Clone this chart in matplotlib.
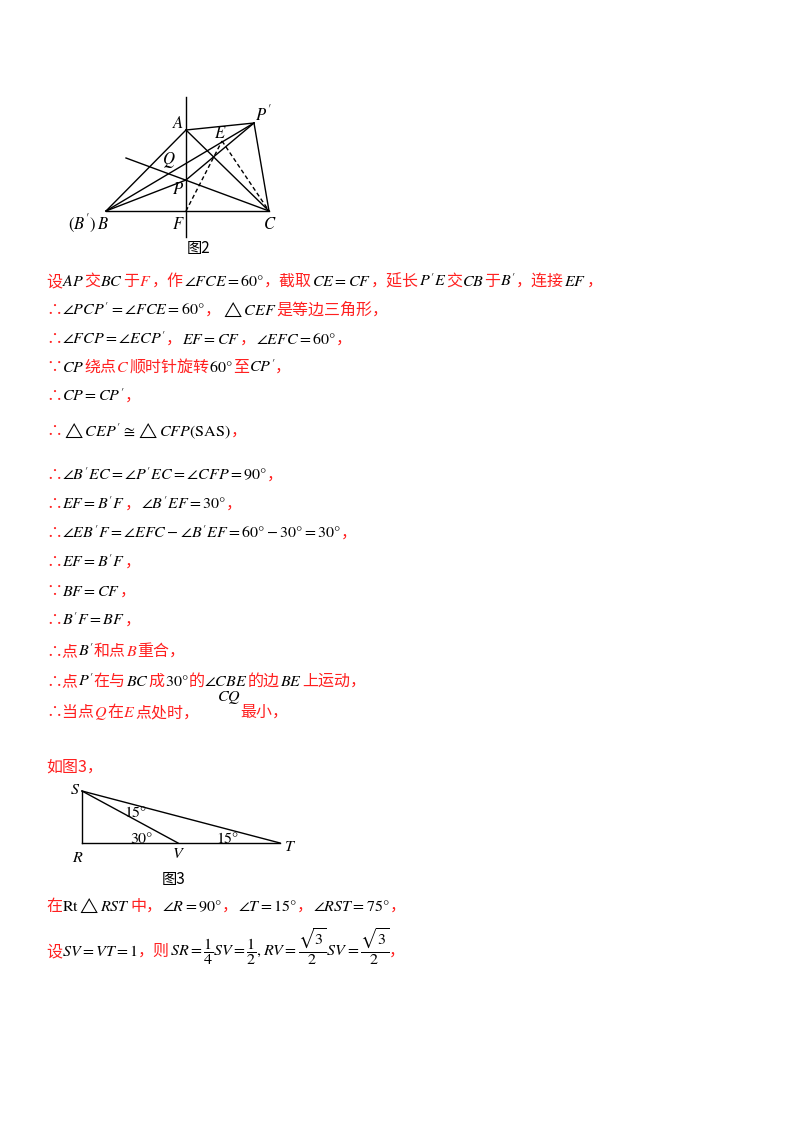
import matplotlib
matplotlib.use("Agg")
import matplotlib.pyplot as plt

plt.rcParams["mathtext.fontset"] = "stix"
plt.rcParams["font.family"] = ["Noto Sans CJK SC", "DejaVu Sans"]

RED = "#ff2020"
BLK = "black"

# ---------------- figure 2 points (page pixels)
fig2_pts = {
    "A": (186, 130), "P'": (254, 123), "B": (106, 211), "C": (269, 211),
    "F": (186, 211), "P": (186, 180), "E": (222, 141), "L": (126, 158),
}
fig2_solid = [("A", "B"), ("A", "C"), ("A", "P'"), ("P'", "C"), ("B", "C"),
              ("B", "P'"), ("B", "P"), ("P", "P'"), ("L", "C")]
fig2_dashed = [("F", "E"), ("E", "C")]
fig2_labels = [("A", 172, 128), ("P'", 255, 120), ("E", 214, 138), ("Q", 162, 164),
               ("P", 172, 194), ("(B')\\,B", 68, 229), ("F", 172, 229), ("C", 263, 229)]

# ---------------- figure 3 points
fig3_pts = {"S": (82, 791), "R": (82, 843), "V": (178, 843), "T": (280, 843)}
fig3_solid = [("S", "R"), ("R", "T"), ("S", "T"), ("S", "V")]
fig3_labels = [("S", 70, 794), ("R", 72, 862), ("V", 172, 858), ("T", 284, 851),
               ("15°", 124, 817), ("30°", 130, 843), ("15°", 216, 843)]

# ---------------- text lines: (y, [(text, colour), ...]); colour None = jump to x
text_lines = [
    (286, [("设", RED), ("$AP$", BLK), ("交", RED), ("$BC$", BLK), ("于", RED), ("$F$", RED),
           ("，作", RED), ("$\\angle FCE=60°$", BLK), ("，截取", RED), ("$CE=CF$", BLK),
           ("，延长", RED), ("$P'E$", BLK), ("交", RED), ("$CB$", BLK), ("于", RED),
           ("$B'$", BLK), ("，连接", RED), ("$EF$", BLK), ("，", RED)]),
    (315, [("∴", RED), ("$\\angle PCP'=\\angle FCE=60°$", BLK), ("，", RED),
           ("$\\triangle CEF$", BLK), ("是等边三角形，", RED)]),
    (344, [("∴", RED), ("$\\angle FCP=\\angle ECP'$", BLK), ("，", RED), ("$EF=CF$", BLK),
           ("，", RED), ("$\\angle EFC=60°$", BLK), ("，", RED)]),
    (372, [("∵", RED), ("$CP$", BLK), ("绕点", RED), ("$C$", RED), ("顺时针旋转", RED),
           ("$60°$", BLK), ("至", RED), ("$CP'$", BLK), ("，", RED)]),
    (401, [("∴", RED), ("$CP=CP'$", BLK), ("，", RED)]),
    (436, [("∴", RED), ("$\\triangle CEP'\\cong\\triangle CFP(\\mathrm{SAS})$", BLK), ("，", RED)]),
    (480, [("∴", RED), ("$\\angle B'EC=\\angle P'EC=\\angle CFP=90°$", BLK), ("，", RED)]),
    (509, [("∴", RED), ("$EF=B'F$", BLK), ("，", RED), ("$\\angle B'EF=30°$", BLK), ("，", RED)]),
    (538, [("∴", RED), ("$\\angle EB'F=\\angle EFC-\\angle B'EF=60°-30°=30°$", BLK), ("，", RED)]),
    (567, [("∴", RED), ("$EF=B'F$", BLK), ("，", RED)]),
    (596, [("∵", RED), ("$BF=CF$", BLK), ("，", RED)]),
    (625, [("∴", RED), ("$B'F=BF$", BLK), ("，", RED)]),
    (656, [("∴点", RED), ("$B'$", BLK), ("和点", RED), ("$B$", RED), ("重合，", RED)]),
    (686, [("∴点", RED), ("$P'$", BLK), ("在与", RED), ("$BC$", BLK), ("成", RED), ("$30°$", BLK),
           ("的", RED), ("$\\angle CBE$", BLK), ("的边", RED), ("$BE$", BLK), ("上运动，", RED)]),
    (717, [("∴当点", RED), ("$Q$", RED), ("在", RED), ("$E$", RED), ("点处时，", RED),
           (240, None), ("最小，", RED)]),
    (772, [("如图3，", RED)]),
    (911, [("在", RED), ("$\\mathrm{Rt}\\triangle RST$", BLK), ("中，", RED),
           ("$\\angle R=90°$", BLK), ("，", RED), ("$\\angle T=15°$", BLK), ("，", RED),
           ("$\\angle RST=75°$", BLK), ("，", RED)]),
    (956, [("设", RED), ("$SV=VT=1$", BLK), ("，则", RED),
           ("$SR=\\dfrac{1}{4}SV=\\dfrac{1}{2},RV=\\dfrac{\\sqrt{3}}{2}SV=\\dfrac{\\sqrt{3}}{2}$", BLK),
           ("，", RED)]),
]

fig = plt.figure(figsize=(8, 11.32), dpi=100)
ax = fig.add_axes([0, 0, 1, 1])
ax.set_xlim(0, 800)
ax.set_ylim(1132, 0)
ax.axis("off")
renderer = fig.canvas.get_renderer()


def draw_segments(pts, pairs, ls="-"):
    for a, b in pairs:
        ax.plot([pts[a][0], pts[b][0]], [pts[a][1], pts[b][1]], color="black",
                lw=1.0, ls=ls if ls == "-" else (0, (3, 2)))


def math_label(s, x, y, size=12):
    txt = s if "°" in s else "$" + s + "$"
    ax.text(x, y, txt, fontsize=size, color="black", va="baseline", family="STIXGeneral")


# figure 2
draw_segments(fig2_pts, fig2_solid)
draw_segments(fig2_pts, fig2_dashed, "--")
ax.plot([186, 186], [97, 237], color="black", lw=1.0)
for s, x, y in fig2_labels:
    math_label(s, x, y)
ax.text(187, 253, "图2", fontsize=11, color="black", va="baseline")

# figure 3
draw_segments(fig3_pts, fig3_solid)
for s, x, y in fig3_labels:
    math_label(s, x, y, 11.5)
ax.text(162, 884, "图3", fontsize=11, color="black", va="baseline")

# text lines
for y, segs in text_lines:
    x = 46
    for s, c in segs:
        if c is None:
            x = s
            continue
        t = ax.text(x, y, s, fontsize=11.5, color=c, va="baseline")
        x += t.get_window_extent(renderer).width
ax.text(217, 701, "$CQ$", fontsize=11.5, color="black", va="baseline")

fig.savefig("out.png", dpi=100)
